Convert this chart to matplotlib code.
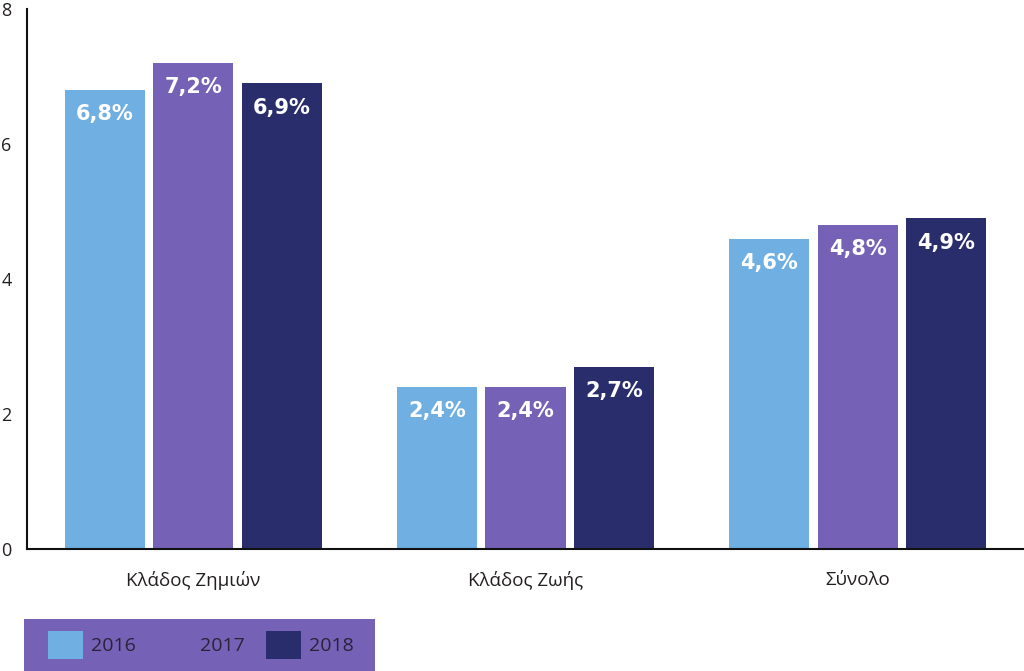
import matplotlib.pyplot as plt
import numpy as np
from matplotlib.patches import Patch, Rectangle

plt.rcParams['font.family'] = ['Open Sans', 'Noto Sans', 'DejaVu Sans']

# data
categories = ['Κλάδος Ζημιών', 'Κλάδος Ζωής', 'Σύνολο']
years = ['2016', '2017', '2018']
values_2016 = [6.8, 2.4, 4.6]
values_2017 = [7.2, 2.4, 4.8]
values_2018 = [6.9, 2.7, 4.9]
labels_2016 = ['6,8%', '2,4%', '4,6%']
labels_2017 = ['7,2%', '2,4%', '4,8%']
labels_2018 = ['6,9%', '2,7%', '4,9%']
y_ticks = [0, 2, 4, 6, 8]

colors = ['#6FAFE2', '#7561B5', '#2A2D6B']
text_color = '#231F20'

fig = plt.figure(figsize=(10.24, 6.71), dpi=100)
ax = fig.add_axes([27 / 1024, 122 / 671, 997 / 1024, 540 / 671])

x = np.arange(len(categories))
width = 0.241
offset = 0.2666
series = [values_2016, values_2017, values_2018]
bar_labels = [labels_2016, labels_2017, labels_2018]

for i, (vals, labs) in enumerate(zip(series, bar_labels)):
    bars = ax.bar(x + (i - 1) * offset, vals, width, color=colors[i], zorder=2)
    for b, lab in zip(bars, labs):
        ax.annotate(lab, (b.get_x() + b.get_width() / 2, b.get_height()),
                    xytext=(0, -17.5), textcoords='offset points',
                    ha='center', va='center', color='white',
                    fontsize=15, fontweight='bold', family='DejaVu Sans')

ax.set_xlim(-0.5, 2.5)
ax.set_ylim(0, 8)
ax.set_yticks(y_ticks)
ax.set_yticklabels([str(t) for t in y_ticks])
ax.set_xticks(x)
ax.set_xticklabels(categories)

for side in ['top', 'right']:
    ax.spines[side].set_visible(False)
for side in ['left', 'bottom']:
    ax.spines[side].set_color('#111111')
    ax.spines[side].set_linewidth(1.5)

ax.tick_params(axis='y', length=0, pad=11, labelsize=13, labelcolor=text_color)
ax.tick_params(axis='x', length=0, pad=16, labelsize=13.5, labelcolor=text_color)

# legend with purple background
fig.patches.append(Rectangle((24 / 1024, 0), 351 / 1024, 52 / 671,
                             transform=fig.transFigure, facecolor=colors[1],
                             edgecolor='none', zorder=0))
handles = [Patch(facecolor=c, edgecolor='none') for c in colors]
fig.legend(handles, years, loc='center left',
           bbox_to_anchor=(48 / 1024, 26 / 671), ncol=3, frameon=False,
           fontsize=14, handlelength=1.8, handleheight=1.8,
           handletextpad=0.4, columnspacing=1.1, labelcolor='#2A2238',
           borderpad=0, borderaxespad=0)

fig.savefig('out.png', dpi=100)
